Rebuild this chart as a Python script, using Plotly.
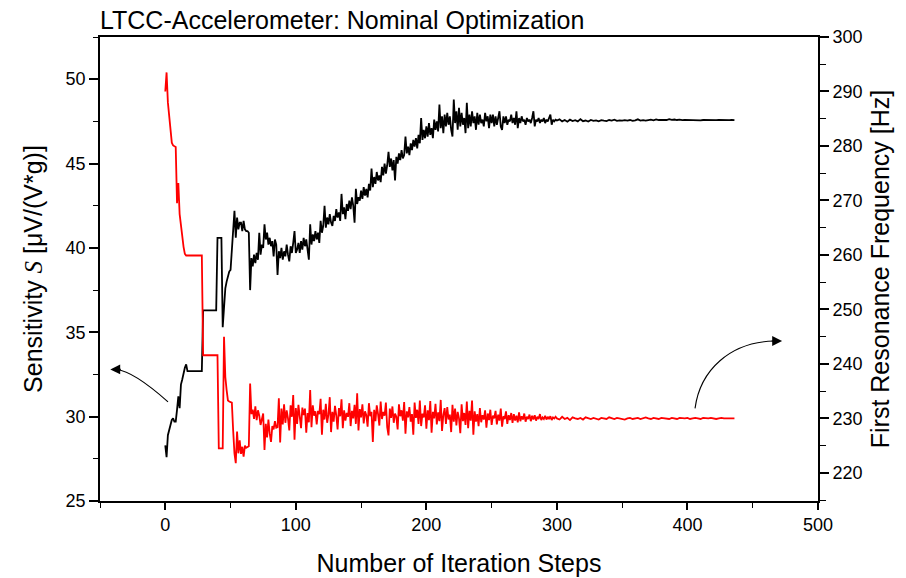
import plotly.graph_objects as go

# Sensitivity S [µV/(V*g)] (left axis, black) for iteration steps 0..299
sensitivity = [
    28.3, 27.6, 28.9, 29.3, 29.5, 29.8, 29.9, 29.7, 29.7, 30.4,
    31.2, 30.5, 31.9, 32.2, 32.6, 32.9, 33.1, 32.7, 32.7, 32.7,
    32.7, 32.7, 32.7, 32.7, 32.7, 32.7, 32.7, 32.7, 32.7, 36.3,
    36.3, 36.3, 36.3, 36.3, 36.3, 36.3, 36.3, 36.3, 36.3, 36.3,
    40.6, 40.6, 40.6, 40.6, 35.3, 36.9, 37.6, 38.0, 38.4, 38.6,
    38.7, 40.0, 41.1, 42.2, 40.6, 41.8, 41.1, 41.5, 41.5, 41.0,
    41.6, 41.1, 41.0, 41.0, 40.9, 37.5, 39.4, 38.9, 39.6, 39.1,
    39.7, 39.3, 40.9, 39.6, 40.2, 40.0, 41.4, 40.5, 40.9, 40.2,
    40.6, 40.1, 40.4, 39.5, 40.5, 40.2, 38.4, 39.8, 39.4, 40.0,
    39.3, 39.8, 39.5, 40.2, 39.6, 39.2, 40.1, 39.7, 40.3, 41.0,
    39.7, 39.9, 40.3, 39.7, 40.4, 39.9, 40.6, 40.1, 40.5, 39.8,
    39.3, 41.4, 40.2, 40.8, 40.4, 41.0, 40.5, 40.9, 40.3, 41.6,
    40.9, 41.3, 42.5, 41.2, 41.8, 41.4, 42.0, 41.5, 41.3, 41.9,
    41.6, 42.3, 41.8, 42.1, 41.6, 43.2, 42.0, 42.4, 41.7, 42.6,
    42.2, 42.8, 42.3, 43.0, 42.5, 41.5, 43.5, 42.6, 43.0, 42.8,
    43.4, 42.9, 43.6, 43.1, 43.5, 43.0, 43.8, 43.4, 44.7, 43.6,
    44.2, 43.8, 44.5, 44.0, 44.3, 43.9, 44.8, 44.3, 45.0, 44.4,
    44.9, 45.7, 44.8, 45.3, 44.6, 45.2, 44.0, 45.4, 45.0, 45.6,
    45.2, 45.8, 45.3, 45.5, 46.6, 45.6, 46.0, 45.5, 46.2, 45.8,
    46.4, 46.0, 46.5, 45.9, 46.7, 46.2, 47.7, 46.4, 47.0, 46.5,
    47.2, 46.6, 47.4, 46.7, 47.1, 46.5, 47.6, 47.0, 47.5, 46.9,
    48.5, 47.1, 47.8, 46.8, 47.9, 47.2, 48.0, 47.3, 47.8, 47.0,
    46.6, 48.8, 47.4, 48.1, 47.0, 48.3, 47.2, 48.0, 47.3, 47.7,
    46.8, 48.6, 47.1, 47.9, 47.2, 48.1, 47.4, 47.8, 47.0, 48.0,
    47.3, 47.9, 47.4, 47.6, 47.2, 48.0, 47.5, 47.8, 47.1, 47.9,
    47.4, 47.9, 47.2, 47.8, 47.3, 47.7, 48.1, 47.2, 47.0, 47.8,
    47.4, 47.8, 47.3, 47.6, 47.5, 47.9, 47.4, 47.7, 47.3, 48.1,
    47.1, 47.7, 47.4, 47.8, 47.5, 47.6, 47.3, 47.7, 47.5, 47.6,
    47.4, 47.7, 48.1, 47.2, 47.6, 47.5, 47.7, 47.4, 47.6, 47.5,
    47.7, 47.4, 47.6, 47.5, 47.7, 47.9, 47.3, 47.6, 47.5, 47.6,
]
# Sensitivity, steps 300..436 every second step
sensitivity_tail = [
    47.55, 47.62, 47.50, 47.58, 47.48, 47.60, 47.52, 47.57, 47.50, 47.63,
    47.51, 47.55, 47.49, 47.58, 47.53, 47.56, 47.50, 47.57, 47.54, 47.52,
    47.58, 47.55, 47.60, 47.53, 47.56, 47.54, 47.57, 47.55, 47.58, 47.53,
    47.56, 47.62, 47.55, 47.57, 47.54, 47.58, 47.60, 47.56, 47.62, 47.58,
    47.57, 47.60, 47.58, 47.63, 47.59, 47.61, 47.58, 47.60, 47.57, 47.59,
    47.58, 47.60, 47.57, 47.59, 47.58, 47.56, 47.58, 47.57, 47.58, 47.56,
    47.58, 47.57, 47.58, 47.57, 47.56, 47.58, 47.57, 47.58, 47.57,
]

# First resonance frequency [Hz] (right axis, red) for steps 0..299
frequency = [
    290.0, 293.5, 288.0, 285.0, 282.5, 280.6, 280.1, 280.0, 279.8, 269.5,
    273.2, 267.5, 265.0, 263.5, 261.5, 260.2, 259.9, 259.9, 259.9, 259.9,
    259.9, 259.9, 259.9, 259.9, 259.9, 259.9, 259.9, 259.9, 259.9, 241.6,
    241.6, 241.6, 241.6, 241.6, 241.6, 241.6, 241.6, 241.6, 241.6, 241.6,
    241.6, 224.5, 224.5, 224.5, 224.5, 245.0, 237.6, 235.2, 233.3, 233.1,
    233.0, 232.9, 227.8, 223.6, 221.8, 227.6, 223.6, 226.0, 223.5, 224.8,
    223.0, 225.0, 224.6, 224.8, 224.9, 236.4, 230.8, 231.6, 229.9, 232.2,
    229.7, 231.5, 230.5, 228.8, 230.2, 230.9, 224.2, 229.0, 226.5, 229.8,
    227.2, 225.7, 228.6, 228.0, 229.5, 228.3, 228.4, 233.7, 225.6, 231.8,
    228.9, 232.6, 229.2, 231.5, 230.0, 227.8, 232.4, 230.3, 234.3, 226.1,
    231.9, 229.0, 232.5, 230.1, 228.2, 232.0, 230.6, 231.8, 227.4, 231.0,
    229.3, 235.2, 228.4, 232.4, 230.5, 231.3, 228.9, 231.4, 230.8, 233.6,
    227.0, 231.6, 229.8, 232.7, 229.2, 230.7, 233.9, 227.5, 231.2, 229.4,
    232.3, 230.5, 228.0, 231.9, 230.4, 233.5, 228.2, 231.5, 229.6, 231.0,
    230.3, 232.8, 228.6, 231.4, 230.0, 232.5, 229.0, 234.6, 227.8, 231.7,
    230.2, 232.6, 229.1, 231.3, 230.6, 228.5, 232.8, 230.4, 231.2, 225.7,
    231.6, 229.5, 232.4, 230.8, 228.7, 233.1, 229.9, 231.2, 230.5, 232.9,
    228.4, 226.9, 231.8, 230.1, 232.2, 229.2, 230.9, 230.3, 228.0, 232.6,
    230.4, 231.5, 229.6, 233.0, 227.2, 231.3, 230.2, 232.1, 229.4, 230.8,
    227.0, 232.9, 230.1, 231.6, 229.0, 233.3, 228.6, 230.9, 230.2, 232.4,
    228.1, 231.5, 229.7, 233.2, 227.4, 231.2, 230.0, 232.7, 228.9, 231.1,
    229.5, 233.4, 227.7, 230.6, 231.9, 229.0, 232.1, 229.8, 230.7, 227.5,
    232.5, 229.4, 231.8, 228.7, 231.2, 230.0, 227.3, 232.6, 229.5, 231.0,
    228.8, 233.1, 228.2, 231.4, 229.6, 233.3, 227.0, 231.3, 229.4, 230.8,
    228.6, 231.9, 229.3, 230.6, 229.8, 231.5, 228.3, 230.9, 229.7, 231.6,
    228.8, 230.5, 230.0, 231.4, 228.9, 230.7, 229.6, 231.8, 228.5, 230.4,
    229.9, 231.3, 229.0, 230.6, 229.7, 231.0, 229.2, 230.8, 229.6, 230.5,
    229.3, 231.1, 229.5, 230.4, 229.8, 230.9, 229.4, 230.3, 229.9, 230.7,
    229.5, 230.5, 229.8, 230.6, 229.6, 230.3, 229.9, 230.8, 229.7, 230.2,
    229.9, 230.5, 229.8, 230.3, 229.9, 230.4, 229.7, 230.2, 230.0, 230.3,
]
# Frequency, steps 300..436 every second step
frequency_tail = [
    230.0, 229.8, 230.3, 229.9, 230.1, 229.7, 230.2, 230.0, 229.9, 230.1,
    229.8, 230.2, 230.0, 229.9, 230.1, 230.0, 229.8, 230.1, 230.0, 229.9,
    230.2, 230.0, 229.9, 230.1, 230.0, 229.9, 229.8, 230.0, 230.1, 229.9,
    230.0, 230.1, 229.9, 230.0, 230.2, 230.0, 229.9, 230.1, 230.0, 229.9,
    230.1, 230.0, 230.0, 229.9, 230.1, 230.0, 229.9, 230.1, 230.0, 230.0,
    230.1, 229.9, 230.0, 230.1, 230.0, 229.9, 230.1, 230.0, 230.0, 230.1,
    230.0, 229.9, 230.0, 230.1, 230.0, 230.0, 230.1, 230.0, 230.0,
]

x_tick_values = [0, 100, 200, 300, 400, 500]
left_tick_values = [25, 30, 35, 40, 45, 50]
right_tick_values = [220, 230, 240, 250, 260, 270, 280, 290, 300]

head_len = len(sensitivity)
steps_s = list(range(head_len)) + [head_len + 2 * i for i in range(len(sensitivity_tail))]
steps_f = list(range(len(frequency))) + [len(frequency) + 2 * i for i in range(len(frequency_tail))]

FONT = "Liberation Sans, Arial, sans-serif"

fig = go.Figure()
fig.add_trace(go.Scatter(x=steps_s, y=sensitivity + sensitivity_tail, mode="lines",
                         line=dict(color="black", width=1.8), name="Sensitivity",
                         yaxis="y"))
fig.add_trace(go.Scatter(x=steps_f, y=frequency + frequency_tail, mode="lines",
                         line=dict(color="#ff0000", width=1.8), name="Frequency",
                         yaxis="y2"))

axis_common = dict(showgrid=False, zeroline=False, showline=True, linecolor="black",
                   linewidth=1.6, ticks="outside", tickcolor="black", tickwidth=1.6,
                   tickfont=dict(family=FONT, size=18, color="black"))

W, H = 906, 578
fig.update_layout(
    width=W, height=H,
    margin=dict(l=100, r=88, t=37, b=77, autoexpand=False),
    paper_bgcolor="white", plot_bgcolor="white",
    showlegend=False,
    font=dict(family=FONT, color="black"),
    title=dict(text="LTCC-Accelerometer: Nominal Optimization", x=100 / W, xanchor="left",
               xref="container", yref="container", y=1 - 20 / H, yanchor="middle",
               font=dict(family=FONT, size=25, color="black")),
    xaxis=dict(range=[-50, 500], tickvals=x_tick_values, ticklen=7, mirror=True,
               minor=dict(dtick=50, tick0=0, ticklen=5, ticks="outside", tickcolor="black", tickwidth=1.4),
               title=dict(text="Number of Iteration Steps", standoff=20,
                          font=dict(family=FONT, size=25, color="black")),
               **axis_common),
    yaxis=dict(range=[25, 52.5], tickvals=left_tick_values, ticklen=9,
               minor=dict(dtick=2.5, tick0=25, ticklen=5, ticks="outside", tickcolor="black", tickwidth=1.4),
               title=dict(text="Sensitivity <span style='font-family:Liberation Serif'><i>S</i></span> [μV/(V*g)]",
                          standoff=16, font=dict(family=FONT, size=25, color="black")),
               **axis_common),
    yaxis2=dict(range=[214.85, 300], tickvals=right_tick_values, ticklen=9, overlaying="y", side="right",
                minor=dict(dtick=5, tick0=220, ticklen=6, ticks="outside", tickcolor="black", tickwidth=1.4),
                title=dict(text="First Resonance Frequency [Hz]", standoff=10,
                           font=dict(family=FONT, size=25, color="black")),
                **axis_common),
)

# Curved pointer arrows (drawn in left-axis data coordinates)
fig.add_shape(type="path", xref="x", yref="y",
              path="M 2.1,30.88 Q -24.5,32.70 -37.0,32.78",
              line=dict(color="black", width=1.1))
fig.add_annotation(x=-42.1, y=32.80, xref="x", yref="y", ax=12, ay=0, text="",
                   showarrow=True, arrowhead=2, arrowsize=1.8, arrowwidth=1.1, arrowcolor="black")
fig.add_shape(type="path", xref="x", yref="y",
              path="M 405.8,30.49 C 409.7,32.76 432.6,34.42 466.5,34.48",
              line=dict(color="black", width=1.1))
fig.add_annotation(x=472.5, y=34.48, xref="x", yref="y", ax=-12, ay=0, text="",
                   showarrow=True, arrowhead=2, arrowsize=1.8, arrowwidth=1.1, arrowcolor="black")

# remove the default page margin so the figure fills the window exactly
fig.write_html("out.html", config={"displayModeBar": False},
               post_script="document.body.style.margin='0';")
